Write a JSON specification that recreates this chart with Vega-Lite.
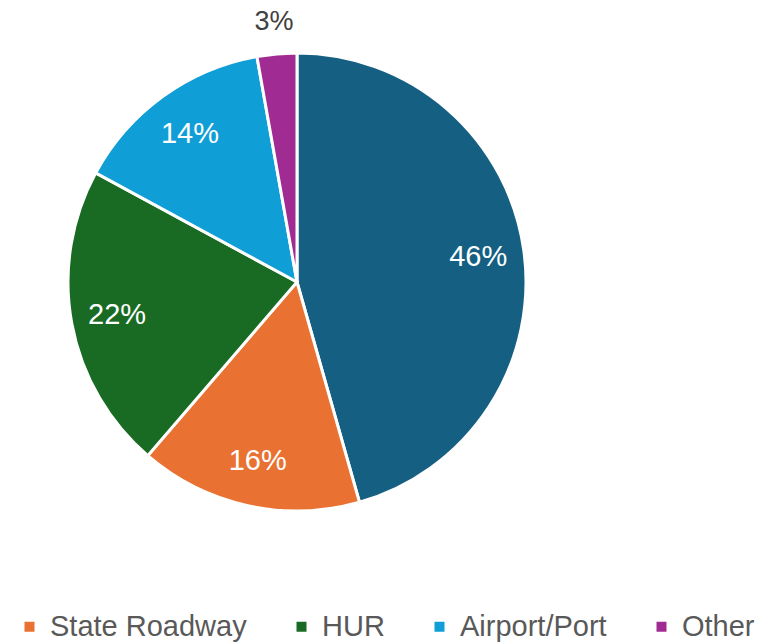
{
  "$schema": "https://vega.github.io/schema/vega-lite/v6.json",
  "width": 594,
  "height": 564,
  "padding": 0,
  "background": "white",
  "config": {"view": {"stroke": null}, "font": "Liberation Sans"},
  "data": {
    "values": [
      {"category": "Local", "value": 0.456, "idx": 1},
      {"category": "State Roadway", "value": 0.157, "idx": 2},
      {"category": "HUR", "value": 0.216, "idx": 3},
      {"category": "Airport/Port", "value": 0.143, "idx": 4},
      {"category": "Other", "value": 0.028, "idx": 5}
    ]
  },
  "encoding": {
    "theta": {"field": "value", "type": "quantitative", "stack": true},
    "order": {"field": "idx", "type": "quantitative"}
  },
  "layer": [
    {
      "mark": {"type": "arc", "outerRadius": 229, "stroke": "white", "strokeWidth": 3},
      "encoding": {
        "color": {
          "field": "category",
          "type": "nominal",
          "sort": null,
          "scale": {
            "domain": ["Local", "State Roadway", "HUR", "Airport/Port", "Other"],
            "range": ["#156082", "#E97132", "#196B24", "#0F9ED5", "#A02B93"]
          },
          "legend": {
            "title": null,
            "orient": "none",
            "direction": "horizontal",
            "legendX": 15,
            "legendY": 612,
            "values": ["State Roadway", "HUR", "Airport/Port", "Other"],
            "symbolType": "square",
            "symbolSize": 100,
            "symbolStrokeWidth": 0,
            "labelFontSize": 29,
            "labelColor": "#595959",
            "labelOffset": 6,
            "columnPadding": 40,
            "labelLimit": 400
          }
        }
      }
    },
    {
      "mark": {"type": "text", "radius": 183, "fontSize": 29, "color": "white"},
      "encoding": {
        "text": {
          "condition": {"test": "datum.value >= 0.05", "field": "value", "type": "quantitative", "format": ".0%"},
          "value": ""
        }
      }
    },
    {
      "mark": {"type": "text", "radius": 261, "fontSize": 27, "color": "#404040"},
      "encoding": {
        "text": {
          "condition": {"test": "datum.value < 0.05", "field": "value", "type": "quantitative", "format": ".0%"},
          "value": ""
        }
      }
    }
  ]
}
